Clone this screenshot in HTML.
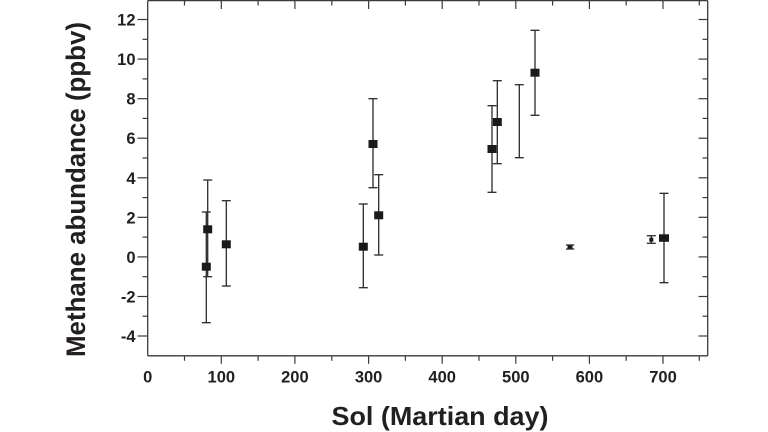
<!DOCTYPE html>
<html>
<head>
<meta charset="utf-8">
<style>
  html, body { margin: 0; padding: 0; background: #ffffff; }
  svg { display: block; }
  text { font-family: "Liberation Sans", "DejaVu Sans", sans-serif; fill: #231f20; }
</style>
</head>
<body>
<svg width="768" height="432" viewBox="0 0 768 432" xmlns="http://www.w3.org/2000/svg">
  <rect x="0" y="0" width="768" height="432" fill="#ffffff"/>

  <!-- axes frame -->
  <g stroke="#3a3a3a" stroke-width="1.3" fill="none">
    <line x1="147.7" y1="0.6" x2="147.7" y2="355.8"/>
    <line x1="147.7" y1="355.8" x2="707.7" y2="355.8"/>
    <line x1="707.7" y1="0.6" x2="707.7" y2="355.8"/>
    <line x1="147.7" y1="0.6" x2="707.7" y2="0.6"/>
  </g>

  <!-- left ticks (outward) -->
  <g stroke="#3a3a3a" stroke-width="1.2">
    <line x1="137.5" y1="19.5" x2="147.7" y2="19.5"/>
    <line x1="142.5" y1="39.3" x2="147.7" y2="39.3"/>
    <line x1="137.5" y1="59.1" x2="147.7" y2="59.1"/>
    <line x1="142.5" y1="78.9" x2="147.7" y2="78.9"/>
    <line x1="137.5" y1="98.7" x2="147.7" y2="98.7"/>
    <line x1="142.5" y1="118.4" x2="147.7" y2="118.4"/>
    <line x1="137.5" y1="138.2" x2="147.7" y2="138.2"/>
    <line x1="142.5" y1="158.0" x2="147.7" y2="158.0"/>
    <line x1="137.5" y1="177.8" x2="147.7" y2="177.8"/>
    <line x1="142.5" y1="197.6" x2="147.7" y2="197.6"/>
    <line x1="137.5" y1="217.3" x2="147.7" y2="217.3"/>
    <line x1="142.5" y1="237.1" x2="147.7" y2="237.1"/>
    <line x1="137.5" y1="256.9" x2="147.7" y2="256.9"/>
    <line x1="142.5" y1="276.7" x2="147.7" y2="276.7"/>
    <line x1="137.5" y1="296.5" x2="147.7" y2="296.5"/>
    <line x1="142.5" y1="316.2" x2="147.7" y2="316.2"/>
    <line x1="137.5" y1="336.0" x2="147.7" y2="336.0"/>
  </g>

  <!-- right ticks (inward) -->
  <g stroke="#3a3a3a" stroke-width="1.2">
    <line x1="698.5" y1="19.5" x2="707.7" y2="19.5"/>
    <line x1="702.5" y1="39.3" x2="707.7" y2="39.3"/>
    <line x1="698.5" y1="59.1" x2="707.7" y2="59.1"/>
    <line x1="702.5" y1="78.9" x2="707.7" y2="78.9"/>
    <line x1="698.5" y1="98.7" x2="707.7" y2="98.7"/>
    <line x1="702.5" y1="118.4" x2="707.7" y2="118.4"/>
    <line x1="698.5" y1="138.2" x2="707.7" y2="138.2"/>
    <line x1="702.5" y1="158.0" x2="707.7" y2="158.0"/>
    <line x1="698.5" y1="177.8" x2="707.7" y2="177.8"/>
    <line x1="702.5" y1="197.6" x2="707.7" y2="197.6"/>
    <line x1="698.5" y1="217.3" x2="707.7" y2="217.3"/>
    <line x1="702.5" y1="237.1" x2="707.7" y2="237.1"/>
    <line x1="698.5" y1="256.9" x2="707.7" y2="256.9"/>
    <line x1="702.5" y1="276.7" x2="707.7" y2="276.7"/>
    <line x1="698.5" y1="296.5" x2="707.7" y2="296.5"/>
    <line x1="702.5" y1="316.2" x2="707.7" y2="316.2"/>
    <line x1="698.5" y1="336.0" x2="707.7" y2="336.0"/>
  </g>

  <!-- bottom ticks (outward) -->
  <g stroke="#3a3a3a" stroke-width="1.2">
    <line x1="184.5" y1="355.8" x2="184.5" y2="360.8"/>
    <line x1="221.3" y1="355.8" x2="221.3" y2="363.8"/>
    <line x1="258.1" y1="355.8" x2="258.1" y2="360.8"/>
    <line x1="294.9" y1="355.8" x2="294.9" y2="363.8"/>
    <line x1="331.8" y1="355.8" x2="331.8" y2="360.8"/>
    <line x1="368.6" y1="355.8" x2="368.6" y2="363.8"/>
    <line x1="405.4" y1="355.8" x2="405.4" y2="360.8"/>
    <line x1="442.2" y1="355.8" x2="442.2" y2="363.8"/>
    <line x1="479.0" y1="355.8" x2="479.0" y2="360.8"/>
    <line x1="515.8" y1="355.8" x2="515.8" y2="363.8"/>
    <line x1="552.6" y1="355.8" x2="552.6" y2="360.8"/>
    <line x1="589.4" y1="355.8" x2="589.4" y2="363.8"/>
    <line x1="626.2" y1="355.8" x2="626.2" y2="360.8"/>
    <line x1="663.0" y1="355.8" x2="663.0" y2="363.8"/>
    <line x1="699.3" y1="355.8" x2="699.3" y2="360.8"/>
  </g>

  <!-- top ticks (inward) -->
  <g stroke="#3a3a3a" stroke-width="1.2">
    <line x1="184.5" y1="0.6" x2="184.5" y2="5.5"/>
    <line x1="221.3" y1="0.6" x2="221.3" y2="9"/>
    <line x1="258.1" y1="0.6" x2="258.1" y2="5.5"/>
    <line x1="294.9" y1="0.6" x2="294.9" y2="9"/>
    <line x1="331.8" y1="0.6" x2="331.8" y2="5.5"/>
    <line x1="368.6" y1="0.6" x2="368.6" y2="9"/>
    <line x1="405.4" y1="0.6" x2="405.4" y2="5.5"/>
    <line x1="442.2" y1="0.6" x2="442.2" y2="9"/>
    <line x1="479.0" y1="0.6" x2="479.0" y2="5.5"/>
    <line x1="515.8" y1="0.6" x2="515.8" y2="9"/>
    <line x1="552.6" y1="0.6" x2="552.6" y2="5.5"/>
    <line x1="589.4" y1="0.6" x2="589.4" y2="9"/>
    <line x1="626.2" y1="0.6" x2="626.2" y2="5.5"/>
    <line x1="663.0" y1="0.6" x2="663.0" y2="9"/>
    <line x1="699.3" y1="0.6" x2="699.3" y2="5.5"/>
  </g>

  <!-- y tick labels -->
  <g font-size="16.5" font-weight="bold" text-anchor="end">
    <text x="135.5" y="25.5">12</text>
    <text x="135.5" y="65.1">10</text>
    <text x="135.5" y="104.7">8</text>
    <text x="135.5" y="144.2">6</text>
    <text x="135.5" y="183.8">4</text>
    <text x="135.5" y="223.3">2</text>
    <text x="135.5" y="262.9">0</text>
    <text x="135.5" y="302.5">-2</text>
    <text x="135.5" y="342.0">-4</text>
  </g>

  <!-- x tick labels -->
  <g font-size="16.5" font-weight="bold" text-anchor="middle">
    <text x="147.7" y="382.7">0</text>
    <text x="221.3" y="382.7">100</text>
    <text x="294.9" y="382.7">200</text>
    <text x="368.6" y="382.7">300</text>
    <text x="442.2" y="382.7">400</text>
    <text x="515.8" y="382.7">500</text>
    <text x="589.4" y="382.7">600</text>
    <text x="663.0" y="382.7">700</text>
  </g>

  <!-- axis titles -->
  <text x="440" y="425" font-size="26" font-weight="bold" text-anchor="middle" textLength="217" lengthAdjust="spacingAndGlyphs">Sol (Martian day)</text>
  <text transform="translate(85,189.5) rotate(-90)" font-size="27" font-weight="bold" text-anchor="middle" textLength="335" lengthAdjust="spacingAndGlyphs">Methane abundance (ppbv)</text>

  <!-- error bars -->
  <g stroke="#2a2a2a" stroke-width="1.3" fill="none">
    <!-- 1 -->
    <line x1="206.3" y1="212" x2="206.3" y2="322.7"/>
    <line x1="201.8" y1="212" x2="210.8" y2="212"/>
    <line x1="201.8" y1="322.7" x2="210.8" y2="322.7"/>
    <!-- 2 -->
    <line x1="207.7" y1="180" x2="207.7" y2="276.7"/>
    <line x1="203.2" y1="180" x2="212.2" y2="180"/>
    <line x1="203.2" y1="276.7" x2="212.2" y2="276.7"/>
    <!-- 3 -->
    <line x1="226.3" y1="200.7" x2="226.3" y2="286"/>
    <line x1="221.8" y1="200.7" x2="230.8" y2="200.7"/>
    <line x1="221.8" y1="286" x2="230.8" y2="286"/>
    <!-- 4 -->
    <line x1="363.3" y1="204" x2="363.3" y2="287.7"/>
    <line x1="358.8" y1="204" x2="367.8" y2="204"/>
    <line x1="358.8" y1="287.7" x2="367.8" y2="287.7"/>
    <!-- 5 -->
    <line x1="378.7" y1="174.7" x2="378.7" y2="255"/>
    <line x1="374.2" y1="174.7" x2="383.2" y2="174.7"/>
    <line x1="374.2" y1="255" x2="383.2" y2="255"/>
    <!-- 6 -->
    <line x1="373" y1="98.7" x2="373" y2="187.7"/>
    <line x1="368.5" y1="98.7" x2="377.5" y2="98.7"/>
    <line x1="368.5" y1="187.7" x2="377.5" y2="187.7"/>
    <!-- 7 -->
    <line x1="492" y1="105.7" x2="492" y2="192.3"/>
    <line x1="487.5" y1="105.7" x2="496.5" y2="105.7"/>
    <line x1="487.5" y1="192.3" x2="496.5" y2="192.3"/>
    <!-- 8 -->
    <line x1="497.3" y1="80.7" x2="497.3" y2="163.7"/>
    <line x1="492.8" y1="80.7" x2="501.8" y2="80.7"/>
    <line x1="492.8" y1="163.7" x2="501.8" y2="163.7"/>
    <!-- 9 (bar only) -->
    <line x1="519.3" y1="84.7" x2="519.3" y2="157.7"/>
    <line x1="514.8" y1="84.7" x2="523.8" y2="84.7"/>
    <line x1="514.8" y1="157.7" x2="523.8" y2="157.7"/>
    <!-- 10 -->
    <line x1="535" y1="30.3" x2="535" y2="115.3"/>
    <line x1="530.5" y1="30.3" x2="539.5" y2="30.3"/>
    <line x1="530.5" y1="115.3" x2="539.5" y2="115.3"/>
    <!-- 11 small -->
    <line x1="570" y1="245" x2="570" y2="249"/>
    <line x1="566" y1="245" x2="574.3" y2="245"/>
    <line x1="566" y1="249" x2="574.3" y2="249"/>
    <!-- 12 small -->
    <line x1="651.3" y1="235.7" x2="651.3" y2="243.3"/>
    <line x1="646.8" y1="235.7" x2="655.8" y2="235.7"/>
    <line x1="646.8" y1="243.3" x2="655.8" y2="243.3"/>
    <!-- 13 -->
    <line x1="664" y1="193.3" x2="664" y2="282.7"/>
    <line x1="659.5" y1="193.3" x2="668.5" y2="193.3"/>
    <line x1="659.5" y1="282.7" x2="668.5" y2="282.7"/>
  </g>

  <!-- markers -->
  <g fill="#1a1a1a">
    <rect x="201.8" y="262.7" width="9" height="8"/>
    <rect x="203.2" y="225.3" width="9" height="8"/>
    <rect x="221.8" y="240.3" width="9" height="8"/>
    <rect x="358.8" y="242.7" width="9" height="8"/>
    <rect x="374.2" y="211.3" width="9" height="8"/>
    <rect x="368.5" y="140" width="9" height="8"/>
    <rect x="487.5" y="145" width="9" height="8"/>
    <rect x="492.8" y="118" width="9" height="8"/>
    <rect x="530.5" y="68.7" width="9" height="8"/>
    <rect x="567.5" y="245.5" width="5" height="3"/>
    <rect x="649.3" y="237.7" width="4" height="4"/>
    <rect x="659" y="234.3" width="10" height="7.5"/>
  </g>
</svg>
</body>
</html>
